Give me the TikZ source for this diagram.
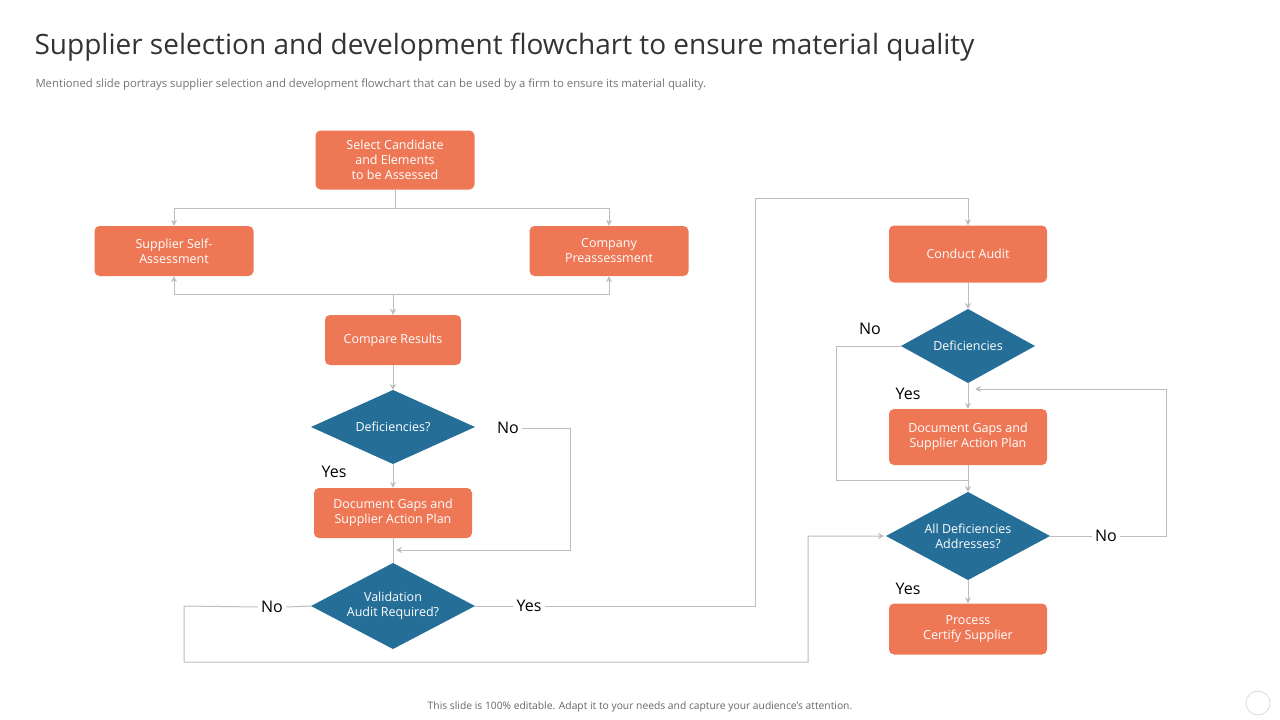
\documentclass[tikz,border=0pt]{standalone}
\usepackage{fontspec}
\setmainfont{Open Sans}
\usetikzlibrary{shapes.geometric,arrows.meta}
\definecolor{org}{HTML}{EE7856}
\definecolor{blu}{HTML}{246E98}
\definecolor{ln}{HTML}{BDBDBD}
\newcommand{\mydia}[6]{%
  \fill[blu] (#2-#4/2,#3) -- (#2,#3-#5/2) -- (#2+#4/2,#3) -- (#2,#3+#5/2) -- cycle;
  \coordinate (#1-n) at (#2,#3-#5/2);
  \coordinate (#1-s) at (#2,#3+#5/2);
  \coordinate (#1-e) at (#2+#4/2,#3);
  \coordinate (#1-w) at (#2-#4/2,#3);
  \node[diatext] (#1) at (#2,#3) {#6};}
\begin{document}
\begin{tikzpicture}[x=1pt,y=-1pt,
  obox/.style={draw=none,fill=org,rounded corners=5pt,text=white,align=center,font=\fontsize{12.5}{15}\selectfont,inner sep=0pt},
  diatext/.style={text=white,align=center,font=\fontsize{12.5}{15}\selectfont,inner sep=0pt},
  conn/.style={draw=ln,line width=1pt,-{Stealth[length=6pt,width=6pt]}},
  ln0/.style={draw=ln,line width=1pt},
  lab/.style={font=\fontsize{16}{18}\selectfont,text=black}]
\useasboundingbox (0,0) rectangle (1280,720);
\node[anchor=west,text=black!80,font=\fontsize{28}{32}\selectfont] (title) at (31,47) {Supplier selection and development flowchart to ensure material quality};
\node[anchor=west,text=black!55,font=\fontsize{11.3}{13}\selectfont] (sub) at (32,85) {Mentioned slide portrays supplier selection and development flowchart that can be used by a firm to ensure its material quality.};
\node[text=black!60,font=\fontsize{10.3}{12}\selectfont] (foot) at (640,707) {This slide is 100\% editable.  Adapt it to your needs and capture your audience's attention.};
\draw[black!25] (1258,703) circle (12) node (circ) {};

\node[obox,minimum width=159,minimum height=59] (sel) at (395,160) {Select Candidate\\and Elements\\to be Assessed};
\node[obox,minimum width=159,minimum height=50] (ssa) at (174,251) {Supplier Self-\\Assessment};
\node[obox,minimum width=159,minimum height=50] (cpa) at (609,251) {Company\\Preassessment};
\node[obox,minimum width=136,minimum height=50] (cmp) at (393,340) {Compare Results};
\mydia{d1}{393}{427}{164}{74}{Deficiencies?}
\node[obox,minimum width=158,minimum height=50] (dg1) at (393,513) {Document Gaps and\\Supplier Action Plan};
\mydia{val}{393}{606}{164}{86}{Validation\\Audit Required?}
\node[obox,minimum width=158,minimum height=57] (ca) at (968,254) {Conduct Audit};
\mydia{d2}{968}{346}{134}{74}{Deficiencies}
\node[obox,minimum width=158,minimum height=56] (dg2) at (968,437) {Document Gaps and\\Supplier Action Plan};
\mydia{all}{968}{536}{164}{88}{All Deficiencies\\Addresses?}
\node[obox,minimum width=158,minimum height=51] (pc) at (968,629) {Process\\Certify Supplier};

\coordinate (j1) at (395,208);
\draw[ln0] (sel.south) -- (j1);
\draw[conn] (j1) -| (ssa.north);
\draw[conn] (j1) -| (cpa.north);
\coordinate (j2) at (393,294);
\draw[conn] (j2) -| (ssa.south);
\draw[conn] (j2) -| (cpa.south);
\draw[conn] (j2) -- (cmp.north);
\draw[conn] (cmp.south) -- (d1-n);
\draw[conn] (d1-s) -- (dg1.north);
\node[lab] (y1) at (334,472) {Yes};
\node[lab] (n1) at (508,428) {No};
\coordinate (m1) at (393,550);
\draw[ln0] (dg1.south) -- (val-n);
\draw[conn] (n1.east) -- (570,428) |- ([xshift=3pt]m1);
\node[lab] (y2) at (529,606) {Yes};
\node[lab] (n2) at (272,607) {No};
\draw[ln0] (val-e) -- (y2.west);
\draw[ln0] (val-w) -- (n2.east);
\draw[conn] (y2.east) -- (755,606) -- (755,198) -| (ca.north);
\draw[conn] (n2.west) -- (184,606) -- (184,662) -- (808,662) -- (808,536) -- ([xshift=-2pt]all-w);
\draw[conn] (ca.south) -- (d2-n);
\draw[conn] (d2-s) -- (dg2.north);
\node[lab] (n3) at (870,329) {No};
\node[lab] (y3) at (908,394) {Yes};
\coordinate (m2) at (968,480);
\draw[ln0] (d2-w) -- (836,346) |- (m2);
\draw[conn] (dg2.south) -- (all-n);
\node[lab] (n4) at (1106,536) {No};
\draw[ln0] (all-e) -- (n4.west);
\draw[conn] (n4.east) -- (1166,536) |- (975,389);
\draw[conn] (all-s) -- (pc.north);
\node[lab] (y4) at (908,589) {Yes};
\end{tikzpicture}
\end{document}
